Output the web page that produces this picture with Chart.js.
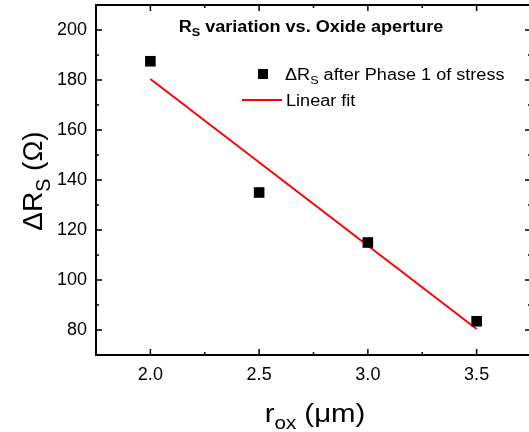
<!DOCTYPE html>
<html>
<head>
<meta charset="utf-8">
<script src="https://cdn.jsdelivr.net/npm/chart.js@4/dist/chart.umd.min.js"></script>
<style>
  html, body { margin: 0; padding: 0; background: #fff; overflow: hidden; }
  #wrap { width: 529px; height: 432px; overflow: hidden; position: relative; }
  #chart { position: absolute; left: 0; top: 0; }
</style>
</head>
<body>
<div id="wrap"><canvas id="chart" width="534" height="432"></canvas></div>
<script>
// data
const rox = [2.0, 2.5, 3.0, 3.5];
const deltaRs = [187.5, 135, 115, 83.5];
const fitX = [2.0, 3.5];
const fitY = [180.4, 80.4];
const xTicks = [2.0, 2.5, 3.0, 3.5];
const yTicks = [80, 100, 120, 140, 160, 180, 200];
const FONT = "'Liberation Sans', Arial, sans-serif";
const STRETCH = 1.13; // the reference text runs a bit wide

// draw text made of parts, some of them subscripts
function partsWidth(ctx, parts, size, weight) {
  let w = 0;
  parts.forEach(p => {
    ctx.font = weight + " " + (p.sub ? size * 0.7 : size) + "px " + FONT;
    w += ctx.measureText(p.t).width;
  });
  return w;
}
function drawParts(ctx, parts, x, y, size, weight, align, sx) {
  sx = sx || 1;
  ctx.save();
  ctx.translate(x, y);
  ctx.scale(sx, 1);
  let cx = align === "center" ? -partsWidth(ctx, parts, size, weight) / 2 : 0;
  ctx.textAlign = "left";
  ctx.textBaseline = "alphabetic";
  parts.forEach(p => {
    const s = p.sub ? size * 0.7 : size;
    ctx.font = weight + " " + s + "px " + FONT;
    ctx.fillText(p.t, cx, p.sub ? size * 0.28 : 0);
    cx += ctx.measureText(p.t).width;
  });
  ctx.restore();
}

const framePlugin = {
  id: "frame",
  afterDraw(chart) {
    const ctx = chart.ctx;
    const a = chart.chartArea;
    const xs = chart.scales.x, ys = chart.scales.y;
    ctx.save();
    ctx.strokeStyle = "#000";
    ctx.fillStyle = "#000";

    // inward ticks, major and minor
    ctx.lineWidth = 1.5;
    const tick = (px, len, horiz) => {
      ctx.beginPath();
      if (horiz) {
        ctx.moveTo(px, a.bottom); ctx.lineTo(px, a.bottom - len);
        ctx.moveTo(px, a.top); ctx.lineTo(px, a.top + len);
      } else {
        ctx.moveTo(a.left, px); ctx.lineTo(a.left + len, px);
        ctx.moveTo(a.right, px); ctx.lineTo(a.right - len, px);
      }
      ctx.stroke();
    };
    xTicks.forEach((v, i) => {
      tick(xs.getPixelForValue(v), 6, true);
      if (i < xTicks.length - 1) tick(xs.getPixelForValue((v + xTicks[i + 1]) / 2), 3, true);
    });
    yTicks.forEach((v, i) => {
      tick(ys.getPixelForValue(v), 6, false);
      if (i < yTicks.length - 1) tick(ys.getPixelForValue((v + yTicks[i + 1]) / 2), 3, false);
    });
    tick(ys.getPixelForValue(yTicks[0] - 10), 3, false);
    tick(ys.getPixelForValue(yTicks[yTicks.length - 1] + 10), 3, false);

    // frame
    ctx.lineWidth = 2;
    ctx.strokeRect(a.left, a.top, a.right - a.left, a.bottom - a.top);

    // title
    drawParts(ctx, [{t: "R"}, {t: "S", sub: true}, {t: " variation vs. Oxide aperture"}],
      311, 32, 16, "bold", "center", STRETCH);

    // legend
    ctx.fillRect(258, 69, 10, 10);
    drawParts(ctx, [{t: "\u0394R"}, {t: "S", sub: true}, {t: " after Phase 1 of stress"}],
      285, 80, 16, "normal", "left", STRETCH);
    ctx.strokeStyle = "#ff0000";
    ctx.lineWidth = 2;
    ctx.beginPath();
    ctx.moveTo(242, 100); ctx.lineTo(282, 100);
    ctx.stroke();
    drawParts(ctx, [{t: "Linear fit"}], 286, 106, 16, "normal", "left", STRETCH);

    // axis titles
    drawParts(ctx, [{t: "r"}, {t: "ox", sub: true}, {t: " (\u03bcm)"}], 315, 422, 26, "normal", "center", STRETCH);
    ctx.translate(42, 181);
    ctx.rotate(-Math.PI / 2);
    drawParts(ctx, [{t: "\u0394R"}, {t: "S", sub: true}, {t: " (\u03a9)"}], 0, 0, 28, "normal", "center");
    ctx.restore();
  }
};

const noPad = s => { s.paddingTop = 0; s.paddingBottom = 0; s.paddingLeft = 0; s.paddingRight = 0; };

new Chart(document.getElementById("chart"), {
  type: "scatter",
  data: {
    datasets: [
      {
        label: "\u0394RS after Phase 1 of stress",
        data: rox.map((x, i) => ({x: x, y: deltaRs[i]})),
        pointStyle: "rect",
        pointRadius: 7.5,
        backgroundColor: "#000",
        borderWidth: 0,
        order: 1
      },
      {
        label: "Linear fit",
        type: "line",
        data: fitX.map((x, i) => ({x: x, y: fitY[i]})),
        borderColor: "#ff0000",
        borderWidth: 2,
        pointRadius: 0,
        fill: false,
        order: 2
      }
    ]
  },
  options: {
    responsive: false,
    animation: false,
    layout: { autoPadding: false, padding: { left: 0, top: 5, right: 3, bottom: 0 } },
    plugins: { legend: { display: false }, title: { display: false }, tooltip: { enabled: false } },
    scales: {
      x: {
        type: "linear",
        min: 1.75,
        max: 3.75,
        grid: { display: false, drawTicks: false },
        border: { display: false },
        afterBuildTicks: s => { s.ticks = xTicks.map(v => ({value: v})); },
        afterFit: s => { s.height = 77; noPad(s); },
        ticks: {
          padding: 9,
          color: "#000",
          font: { family: FONT, size: 18 },
          callback: v => Number(v).toFixed(1)
        }
      },
      y: {
        type: "linear",
        min: 70,
        max: 210,
        grid: { display: false, drawTicks: false },
        border: { display: false },
        afterBuildTicks: s => { s.ticks = yTicks.map(v => ({value: v})); },
        afterFit: s => { s.width = 96; noPad(s); },
        ticks: {
          padding: 9,
          color: "#000",
          font: { family: FONT, size: 18 },
          callback: v => String(v)
        }
      }
    }
  },
  plugins: [framePlugin]
});
</script>
</body>
</html>
